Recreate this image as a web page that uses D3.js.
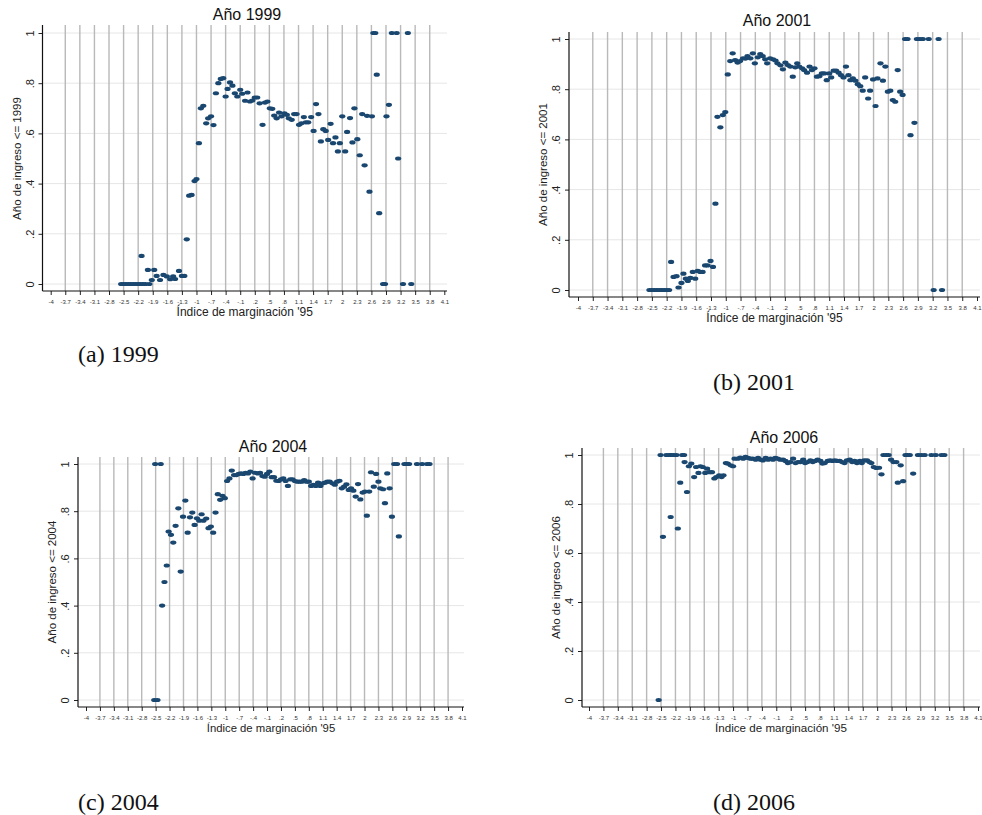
<!DOCTYPE html>
<html>
<head>
<meta charset="utf-8">
<script src="https://cdn.jsdelivr.net/npm/d3@7"></script>
<style>
    body { margin: 0; background: #fff; }
    svg { display: block; }
</style>
</head>
<body>
<svg id="chart" width="982" height="815"></svg>
<script>
// tick values / labels (Stata style, no leading zero)
const xTickValues = [-4, -3.7, -3.4, -3.1, -2.8, -2.5, -2.2, -1.9, -1.6, -1.3, -1, -0.7, -0.4, -0.1,
    0.2, 0.5, 0.8, 1.1, 1.4, 1.7, 2, 2.3, 2.6, 2.9, 3.2, 3.5, 3.8, 4.1]
const xTickLabels = ["-4", "-3.7", "-3.4", "-3.1", "-2.8", "-2.5", "-2.2", "-1.9", "-1.6", "-1.3", "-1", "-.7", "-.4", "-.1",
    ".2", ".5", ".8", "1.1", "1.4", "1.7", "2", "2.3", "2.6", "2.9", "3.2", "3.5", "3.8", "4.1"]
const yTickValues = [0, 0.2, 0.4, 0.6, 0.8, 1]
const yTickLabels = ["0", ".2", ".4", ".6", ".8", "1"]

const years = ["1999", "2001", "2004", "2006"]
const captions = ["(a) 1999", "(b) 2001", "(c) 2004", "(d) 2006"]

// [índice de marginación, proporción]
const pts1999 = [
    [-2.55, 0], [-2.5, 0], [-2.45, 0], [-2.4, 0], [-2.35, 0], [-2.3, 0], [-2.25, 0], [-2.2, 0], [-2.15, 0],
    [-2.1, 0], [-2.05, 0], [-1.97, 0],
    [-2.13, 0.112], [-2.0, 0.056], [-1.87, 0.056], [-1.92, 0.016], [-1.82, 0.032], [-1.75, 0.016], [-1.68, 0.036],
    [-1.61, 0.03], [-1.54, 0.019], [-1.48, 0.03], [-1.44, 0.02], [-1.36, 0.052], [-1.30, 0.032], [-1.25, 0.032],
    [-1.20, 0.178], [-1.15, 0.352], [-1.10, 0.355], [-1.04, 0.41], [-1.0, 0.418], [-0.95, 0.561], [-0.91, 0.70],
    [-0.86, 0.71], [-0.80, 0.64], [-0.76, 0.66], [-0.70, 0.668], [-0.65, 0.633], [-0.60, 0.76], [-0.55, 0.80],
    [-0.50, 0.817], [-0.45, 0.82], [-0.40, 0.747], [-0.36, 0.777], [-0.31, 0.803], [-0.26, 0.79], [-0.21, 0.76],
    [-0.16, 0.747], [-0.10, 0.774], [-0.06, 0.758], [0.0, 0.73], [0.05, 0.763], [0.10, 0.727], [0.15, 0.731],
    [0.20, 0.743], [0.25, 0.743], [0.30, 0.72], [0.36, 0.634], [0.41, 0.723], [0.46, 0.727], [0.51, 0.70],
    [0.56, 0.698], [0.60, 0.671], [0.65, 0.66], [0.70, 0.683], [0.75, 0.668], [0.81, 0.68], [0.86, 0.674],
    [0.90, 0.66], [0.96, 0.654], [1.01, 0.677], [1.06, 0.677], [1.11, 0.634], [1.16, 0.64], [1.21, 0.665],
    [1.25, 0.644], [1.30, 0.644], [1.36, 0.665], [1.41, 0.61], [1.46, 0.717], [1.51, 0.677], [1.56, 0.568],
    [1.61, 0.617], [1.66, 0.61], [1.71, 0.574], [1.76, 0.638], [1.81, 0.561], [1.86, 0.584], [1.91, 0.528],
    [1.95, 0.561], [2.0, 0.668], [2.06, 0.528], [2.10, 0.606], [2.16, 0.661], [2.21, 0.564], [2.25, 0.70],
    [2.31, 0.577], [2.36, 0.513], [2.41, 0.677], [2.46, 0.473], [2.51, 0.67], [2.56, 0.368], [2.61, 0.668],
    [2.64, 1], [2.68, 1], [2.71, 0.834], [2.76, 0.282], [2.84, 0], [2.88, 0], [2.91, 0.668], [2.96, 0.714],
    [3.02, 1], [3.12, 1], [3.15, 0.5], [3.25, 0], [3.35, 1], [3.42, 0]
]

const pts2001 = [
    [-2.55, 0], [-2.5, 0], [-2.45, 0], [-2.4, 0], [-2.35, 0], [-2.3, 0], [-2.25, 0], [-2.2, 0], [-2.15, 0],
    [-2.11, 0.112], [-2.06, 0.052], [-2.0, 0.055], [-1.96, 0.01], [-1.90, 0.028], [-1.86, 0.065], [-1.81, 0.045],
    [-1.77, 0.036], [-1.72, 0.048], [-1.67, 0.072], [-1.62, 0.045], [-1.57, 0.076], [-1.52, 0.072], [-1.47, 0.072],
    [-1.42, 0.098], [-1.37, 0.098], [-1.31, 0.116], [-1.26, 0.092], [-1.21, 0.344], [-1.17, 0.69], [-1.11, 0.648],
    [-1.06, 0.697], [-1.01, 0.709], [-0.96, 0.859], [-0.91, 0.912], [-0.86, 0.943], [-0.81, 0.916], [-0.76, 0.906],
    [-0.71, 0.912], [-0.65, 0.923], [-0.60, 0.922], [-0.56, 0.932], [-0.50, 0.923], [-0.45, 0.943], [-0.41, 0.903],
    [-0.35, 0.927], [-0.30, 0.94], [-0.25, 0.932], [-0.20, 0.919], [-0.16, 0.903], [-0.10, 0.923], [-0.04, 0.919],
    [0.01, 0.914], [0.05, 0.903], [0.11, 0.895], [0.16, 0.879], [0.21, 0.906], [0.26, 0.896], [0.31, 0.89],
    [0.36, 0.85], [0.41, 0.887], [0.45, 0.903], [0.49, 0.89], [0.55, 0.883], [0.59, 0.876], [0.65, 0.866],
    [0.70, 0.89], [0.75, 0.876], [0.80, 0.883], [0.85, 0.85], [0.90, 0.852], [0.95, 0.863], [1.0, 0.863],
    [1.05, 0.836], [1.10, 0.863], [1.14, 0.847], [1.19, 0.874], [1.24, 0.874], [1.29, 0.866], [1.34, 0.856],
    [1.39, 0.847], [1.44, 0.89], [1.49, 0.856], [1.53, 0.836], [1.58, 0.843], [1.63, 0.834], [1.68, 0.82],
    [1.73, 0.812], [1.78, 0.794], [1.83, 0.847], [1.89, 0.763], [1.93, 0.794], [1.99, 0.839], [2.04, 0.733],
    [2.08, 0.843], [2.14, 0.903], [2.19, 0.834], [2.24, 0.89], [2.29, 0.79], [2.34, 0.794], [2.39, 0.757],
    [2.44, 0.75], [2.49, 0.876], [2.54, 0.79], [2.59, 0.777], [2.64, 1], [2.69, 1], [2.75, 0.617], [2.83, 0.666],
    [2.88, 1], [2.94, 1], [3.0, 1], [3.12, 1], [3.22, 0], [3.32, 1], [3.39, 0]
]

const pts2004 = [
    [-2.53, 0], [-2.46, 0], [-2.51, 1], [-2.39, 1], [-2.36, 0.40], [-2.31, 0.50], [-2.26, 0.57], [-2.22, 0.714],
    [-2.17, 0.70], [-2.12, 0.667], [-2.07, 0.738], [-2.01, 0.812], [-1.96, 0.544], [-1.91, 0.777], [-1.86, 0.845],
    [-1.81, 0.709], [-1.76, 0.774], [-1.71, 0.794], [-1.66, 0.742], [-1.61, 0.77], [-1.56, 0.76], [-1.51, 0.787],
    [-1.47, 0.76], [-1.41, 0.769], [-1.36, 0.728], [-1.31, 0.735], [-1.26, 0.709], [-1.21, 0.794], [-1.16, 0.872],
    [-1.11, 0.848], [-1.06, 0.865], [-1.01, 0.855], [-0.96, 0.928], [-0.91, 0.939], [-0.86, 0.972], [-0.81, 0.953],
    [-0.76, 0.953], [-0.71, 0.958], [-0.66, 0.96], [-0.61, 0.958], [-0.56, 0.963], [-0.51, 0.96], [-0.46, 0.968],
    [-0.41, 0.939], [-0.36, 0.963], [-0.30, 0.96], [-0.25, 0.963], [-0.20, 0.949], [-0.15, 0.946], [-0.10, 0.958],
    [-0.05, 0.968], [0.0, 0.944], [0.05, 0.944], [0.10, 0.929], [0.15, 0.928], [0.20, 0.935], [0.25, 0.939],
    [0.30, 0.928], [0.35, 0.907], [0.40, 0.935], [0.45, 0.935], [0.50, 0.928], [0.55, 0.925], [0.60, 0.925],
    [0.65, 0.925], [0.70, 0.932], [0.75, 0.925], [0.80, 0.925], [0.85, 0.907], [0.90, 0.912], [0.95, 0.907],
    [1.0, 0.921], [1.05, 0.907], [1.10, 0.918], [1.15, 0.921], [1.20, 0.925], [1.25, 0.925], [1.31, 0.918],
    [1.36, 0.912], [1.41, 0.925], [1.46, 0.929], [1.51, 0.897], [1.56, 0.904], [1.61, 0.914], [1.66, 0.89],
    [1.71, 0.897], [1.76, 0.887], [1.81, 0.862], [1.86, 0.915], [1.91, 0.85], [1.96, 0.879], [2.01, 0.883],
    [2.05, 0.781], [2.10, 0.883], [2.14, 0.965], [2.20, 0.904], [2.25, 0.958], [2.30, 0.925], [2.34, 0.897],
    [2.40, 0.893], [2.44, 0.834], [2.49, 0.96], [2.54, 0.897], [2.59, 0.777], [2.64, 1], [2.70, 1], [2.74, 0.693],
    [2.86, 1], [2.91, 1], [2.96, 1], [3.13, 1], [3.24, 1], [3.35, 1], [3.40, 1]
]

const pts2006 = [
    [-2.55, 0], [-2.51, 1], [-2.46, 0.666], [-2.39, 1], [-2.33, 1], [-2.29, 1], [-2.24, 1], [-2.18, 1],
    [-2.30, 0.747], [-2.15, 0.70], [-2.10, 0.887], [-2.06, 1], [-2.02, 1], [-2.01, 0.971], [-1.96, 0.849],
    [-1.92, 0.954], [-1.87, 0.965], [-1.81, 0.91], [-1.77, 0.951], [-1.72, 0.927], [-1.68, 0.954], [-1.63, 0.951],
    [-1.58, 0.927], [-1.54, 0.944], [-1.49, 0.93], [-1.44, 0.93], [-1.39, 0.904], [-1.35, 0.91], [-1.29, 0.917],
    [-1.24, 0.91], [-1.20, 0.917], [-1.15, 0.967], [-1.11, 0.965], [-1.05, 0.958], [-1.0, 0.954], [-0.97, 0.985],
    [-0.90, 0.985], [-0.85, 0.989], [-0.79, 0.985], [-0.74, 0.992], [-0.69, 0.988], [-0.64, 0.985], [-0.59, 0.985],
    [-0.53, 0.981], [-0.48, 0.988], [-0.43, 0.981], [-0.38, 0.978], [-0.32, 0.988], [-0.27, 0.981], [-0.22, 0.985],
    [-0.17, 0.981], [-0.12, 0.988], [-0.07, 0.985], [-0.02, 0.981], [0.04, 0.981], [0.09, 0.976], [0.14, 0.967],
    [0.19, 0.971], [0.25, 0.985], [0.30, 0.967], [0.35, 0.971], [0.40, 0.971], [0.46, 0.981], [0.50, 0.967],
    [0.55, 0.971], [0.61, 0.978], [0.66, 0.971], [0.71, 0.976], [0.76, 0.981], [0.82, 0.976], [0.86, 0.965],
    [0.91, 0.967], [0.97, 0.976], [1.02, 0.978], [1.07, 0.976], [1.12, 0.978], [1.17, 0.976], [1.22, 0.976],
    [1.27, 0.971], [1.32, 0.967], [1.37, 0.978], [1.43, 0.981], [1.48, 0.971], [1.53, 0.976], [1.58, 0.967],
    [1.64, 0.976], [1.68, 0.967], [1.73, 0.978], [1.79, 0.978], [1.84, 0.971], [1.88, 0.967], [1.93, 0.951],
    [1.98, 0.947], [2.04, 0.948], [2.09, 0.921], [2.13, 1], [2.19, 1], [2.24, 1], [2.29, 0.981], [2.34, 0.971],
    [2.40, 0.971], [2.43, 0.887], [2.49, 0.958], [2.54, 0.893], [2.59, 1], [2.63, 1], [2.68, 1], [2.75, 0.924],
    [2.85, 1], [2.92, 1], [2.99, 1], [3.13, 1], [3.22, 1], [3.34, 1], [3.40, 1]
]

const panelData = [pts1999, pts2001, pts2004, pts2006]

// layout of each of the four graphs in the page
const layouts = [
    { left: 42.5, top: 25, y1: 33, y0: 284, bottom: 291, xa: 50.7, xb: 444.3, right: 447,
      titleX: 247, titleY: 20, xTitleSize: 12, capX: 78, capY: 362 },
    { left: 569, top: 32, y1: 39, y0: 290, bottom: 297, xa: 578, xb: 977, right: 980,
      titleX: 777, titleY: 26, xTitleSize: 12, capX: 713, capY: 390 },
    { left: 78, top: 457, y1: 464, y0: 700, bottom: 707, xa: 86, xb: 462, right: 464,
      titleX: 273, titleY: 452, xTitleSize: 11.3, capX: 78, capY: 810 },
    { left: 582, top: 448, y1: 455, y0: 700, bottom: 707, xa: 589, xb: 978, right: 980,
      titleX: 784, titleY: 443, xTitleSize: 11.6, capX: 713, capY: 810 }
]

const svg = d3.select('#chart')
const markColour = '#1a476f'
const font = 'Liberation Sans, Arial, sans-serif'

const drawPanel = (i) => {
    const L = layouts[i]
    const data = panelData[i]
    const g = svg.append('g').attr('class', `panel-${years[i]}`)

    const x = d3.scaleLinear().domain([-4, 4.1]).range([L.xa, L.xb])
    const y = d3.scaleLinear().domain([0, 1]).range([L.y0, L.y1])

    // horizontal gridlines
    g.append('g')
        .selectAll('line')
        .data(yTickValues)
        .join('line')
        .attr('x1', L.left)
        .attr('x2', L.right)
        .attr('y1', d => y(d))
        .attr('y2', d => y(d))
        .attr('stroke', '#e6e6e6')
        .attr('stroke-width', 1)

    // vertical gridlines (not at the outer ticks)
    g.append('g')
        .selectAll('line')
        .data(xTickValues.slice(1, -1))
        .join('line')
        .attr('x1', d => x(d))
        .attr('x2', d => x(d))
        .attr('y1', L.top)
        .attr('y2', L.bottom)
        .attr('stroke', '#b9b9b9')
        .attr('stroke-width', 1.4)

    // x axis
    const xAxis = g.append('g')
        .attr('transform', `translate(0,${L.bottom})`)
        .call(d3.axisBottom(x)
            .tickValues(xTickValues)
            .tickFormat((d, k) => xTickLabels[k])
            .tickSize(4)
            .tickSizeOuter(0))
    xAxis.select('.domain').remove()
    xAxis.selectAll('line').attr('stroke', '#222')
    xAxis.selectAll('text')
        .attr('y', 8.5)
        .style('font-family', font)
        .style('font-size', '6px')
        .attr('fill', '#333')

    // y axis
    const yAxis = g.append('g')
        .attr('transform', `translate(${L.left},0)`)
        .call(d3.axisLeft(y)
            .tickValues(yTickValues)
            .tickFormat((d, k) => yTickLabels[k])
            .tickSize(4)
            .tickSizeOuter(0))
    yAxis.select('.domain').remove()
    yAxis.selectAll('line').attr('stroke', '#222')
    yAxis.selectAll('text')
        .attr('transform', 'rotate(-90)')
        .attr('x', 0)
        .attr('y', -9)
        .attr('dy', 0)
        .attr('text-anchor', 'middle')
        .style('font-family', font)
        .style('font-size', '11px')
        .attr('fill', '#222')

    // axis lines
    g.append('line')
        .attr('x1', L.left).attr('x2', L.right)
        .attr('y1', L.bottom).attr('y2', L.bottom)
        .attr('stroke', '#111').attr('stroke-width', 1.2)
    g.append('line')
        .attr('x1', L.left).attr('x2', L.left)
        .attr('y1', L.top).attr('y2', L.bottom)
        .attr('stroke', '#111').attr('stroke-width', 1.2)

    // points
    g.append('g')
        .selectAll('ellipse')
        .data(data)
        .join('ellipse')
        .attr('cx', d => x(d[0]))
        .attr('cy', d => y(d[1]))
        .attr('rx', 3.1)
        .attr('ry', 2.1)
        .attr('fill', markColour)

    // titles
    g.append('text')
        .attr('x', L.titleX)
        .attr('y', L.titleY)
        .attr('text-anchor', 'middle')
        .style('font-family', font)
        .style('font-size', '16px')
        .attr('fill', '#111')
        .text(`Año ${years[i]}`)

    g.append('text')
        .attr('x', (L.left + L.right) / 2)
        .attr('y', L.bottom + 25)
        .attr('text-anchor', 'middle')
        .style('font-family', font)
        .style('font-size', `${L.xTitleSize}px`)
        .attr('fill', '#222')
        .text('Índice de marginación \'95')

    g.append('text')
        .attr('transform', `translate(${L.left - 26},${(L.y0 + L.y1) / 2}) rotate(-90)`)
        .attr('dy', '0.35em')
        .attr('text-anchor', 'middle')
        .style('font-family', font)
        .style('font-size', '11.5px')
        .attr('fill', '#222')
        .text(`Año de ingreso <= ${years[i]}`)

    // caption under the graph
    svg.append('text')
        .attr('x', L.capX)
        .attr('y', L.capY)
        .style('font-family', 'Liberation Serif, Times New Roman, serif')
        .style('font-size', '24px')
        .attr('fill', '#111')
        .text(captions[i])
}

years.forEach((yr, i) => drawPanel(i))
</script>
</body>
</html>
